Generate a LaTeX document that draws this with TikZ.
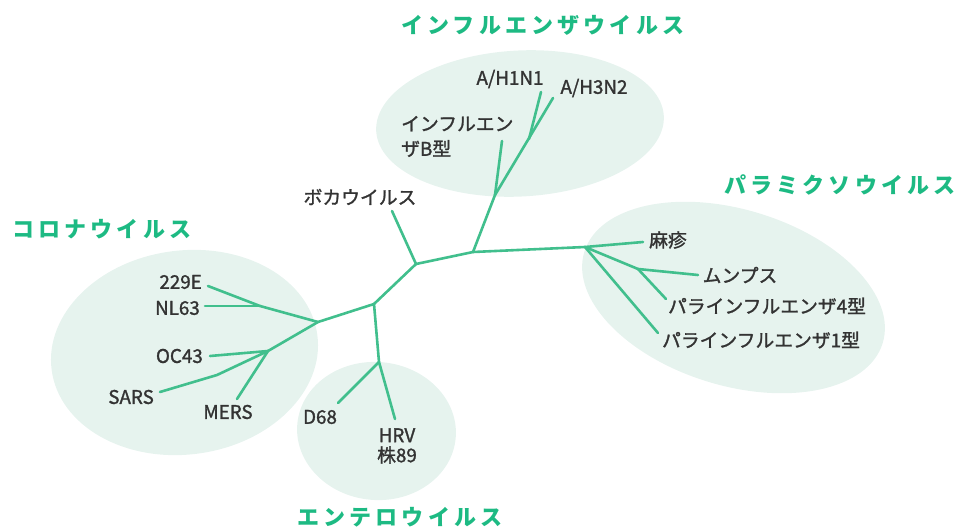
\documentclass[tikz,border=0pt]{standalone}
\usepackage{fontspec}
\setmainfont{Noto Sans CJK JP}
\newfontfamily\lblfont[FakeBold=1.4]{Noto Sans CJK JP}
\newfontfamily\ttlfont[LetterSpace=19]{Noto Sans CJK JP}
\definecolor{bgc}{HTML}{E6F3EE}
\definecolor{lc}{HTML}{41BF8D}
\definecolor{gc}{HTML}{1DBA83}
\definecolor{tc}{HTML}{333333}
\begin{document}
\begin{tikzpicture}[x=1pt,y=-1pt,
  blob/.style={fill=bgc,draw=none},
  br/.style={draw=lc,line width=2.6pt,line cap=round,line join=round},
  lbl/.style={text=tc,font=\lblfont\fontsize{18.8}{25}\selectfont,inner sep=0pt},
  ttl/.style={text=gc,font=\ttlfont\bfseries\fontsize{22}{25}\selectfont,inner sep=0pt,anchor=west}]
\useasboundingbox (0,0) rectangle (959,530);
% clusters
\fill[blob,rotate around={3:(520,123.5)}] (520,123.5) ellipse [x radius=144,y radius=73];
\fill[blob,rotate around={-17:(733.5,297.5)}] (733.5,297.5) ellipse [x radius=156,y radius=88];
\fill[blob,rotate around={7.5:(184.5,352.5)}] (184.5,352.5) ellipse [x radius=134,y radius=102];
\fill[blob,rotate around={-5:(376.5,431)}] (376.5,431) ellipse [x radius=79.5,y radius=69];
% titles
\node[ttl] (tinf) at (401,25) {インフルエンザウイルス};
\node[ttl] (tpar) at (724,185) {パラミクソウイルス};
\node[ttl] (tcor) at (12,229) {コロナウイルス};
\node[ttl] (tent) at (297,517) {エンテロウイルス};
% tree junctions and leaf ends
\coordinate (A) at (416,264);
\coordinate (boca) at (392,211);
\coordinate (B) at (473,252);
\coordinate (C) at (374,304);
\coordinate (Co) at (318,322);
\coordinate (E) at (379,362);
\coordinate (d68) at (338,403);
\coordinate (hrv) at (395,419);
\coordinate (IB) at (495,195);
\coordinate (infb) at (502,141);
\coordinate (IA) at (529,139);
\coordinate (h1) at (541,92);
\coordinate (h3) at (553,98);
\coordinate (PJ) at (585,247);
\coordinate (mea) at (643,242);
\coordinate (MJ) at (638,269);
\coordinate (mum) at (698,275);
\coordinate (p4) at (666,299);
\coordinate (p1) at (658,333);
\coordinate (CJ1) at (260,306);
\coordinate (c229) at (208,286);
\coordinate (nl) at (205,306);
\coordinate (CJ2) at (268,351);
\coordinate (oc) at (210,356);
\coordinate (SB) at (217,375);
\coordinate (sars) at (160,392);
\coordinate (mers) at (237,399);
% branches
\draw[br] (A) -- (boca);
\draw[br] (A) -- (B);
\draw[br] (A) -- (C);
\draw[br] (C) -- (Co);
\draw[br] (C) -- (E);
\draw[br] (E) -- (d68);
\draw[br] (E) -- (hrv);
\draw[br] (B) -- (IB);
\draw[br] (IB) -- (infb);
\draw[br] (IB) -- (h3);
\draw[br] (IA) -- (h1);
\draw[br] (B) -- (PJ);
\draw[br] (PJ) -- (mea);
\draw[br] (PJ) -- (MJ);
\draw[br] (MJ) -- (mum);
\draw[br] (MJ) -- (p4);
\draw[br] (PJ) -- (p1);
\draw[br] (Co) -- (CJ1);
\draw[br] (CJ1) -- (c229);
\draw[br] (CJ1) -- (nl);
\draw[br] (Co) -- (CJ2);
\draw[br] (CJ2) -- (oc);
\draw[br] (CJ2) -- (SB) -- (sars);
\draw[br] (CJ2) -- (mers);
% labels
\node[lbl] (lboca) at (360,197) {ボカウイルス};
\node[lbl] (lh1) at (510,79) {A/H1N1};
\node[lbl] (lh3) at (594,88) {A/H3N2};
\node[lbl,align=left,anchor=west] (linfb) at (401,136.5) {インフルエン\\ザB型};
\node[lbl] (lmea) at (668,240) {麻疹};
\node[lbl] (lmum) at (740,275) {ムンプス};
\node[lbl] (lp4) at (767,306) {パラインフルエンザ4型};
\node[lbl] (lp1) at (761,340) {パラインフルエンザ1型};
\node[lbl,anchor=east] (l229) at (202,282) {229E};
\node[lbl,anchor=east] (lnl) at (200,308) {NL63};
\node[lbl,anchor=east] (loc) at (203,356) {OC43};
\node[lbl,anchor=east] (lsars) at (154,397) {SARS};
\node[lbl] (lmers) at (228,412) {MERS};
\node[lbl] (ld68) at (320,417) {D68};
\node[lbl,align=center,font=\lblfont\fontsize{18.8}{20}\selectfont] (lhrv) at (397,446) {HRV\\株89};
\end{tikzpicture}
\end{document}
